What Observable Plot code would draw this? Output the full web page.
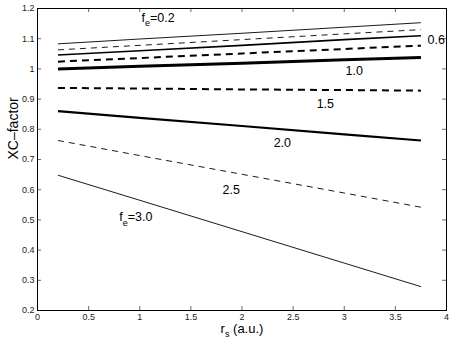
<!DOCTYPE html>
<html>
<head>
<meta charset="utf-8">
<script src="https://cdn.jsdelivr.net/npm/d3@7"></script>
<script src="https://cdn.jsdelivr.net/npm/@observablehq/plot@0.6"></script>
<style>
  html, body { margin: 0; padding: 0; background: #fff; }
  #chart svg { display: block; }
</style>
</head>
<body>
<div id="chart"></div>
<script>
// ---- data ----
const rsValues = [0.2, 1, 2, 3, 3.75];
const feValues = [0.2, 0.4, 0.6, 0.8, 1.0, 1.5, 2.0, 2.5, 3.0];
const xc_02 = [1.083, 1.099, 1.118, 1.138, 1.153];
const xc_04 = [1.063, 1.078, 1.097, 1.116, 1.130];
const xc_06 = [1.046, 1.060, 1.078, 1.097, 1.110];
const xc_08 = [1.024, 1.036, 1.051, 1.066, 1.077];
const xc_10 = [1.000, 1.009, 1.019, 1.030, 1.038];
const xc_15 = [0.937, 0.935, 0.932, 0.930, 0.928];
const xc_20 = [0.860, 0.838, 0.811, 0.783, 0.763];
const xc_25 = [0.763, 0.713, 0.651, 0.589, 0.542];
const xc_30 = [0.648, 0.565, 0.461, 0.357, 0.279];
const seriesValues = [xc_02, xc_04, xc_06, xc_08, xc_10, xc_15, xc_20, xc_25, xc_30];

const xTicks = [0, 0.5, 1, 1.5, 2, 2.5, 3, 3.5, 4];
const yTicks = [0.2, 0.3, 0.4, 0.5, 0.6, 0.7, 0.8, 0.9, 1.0, 1.1, 1.2];
const yTickLabels = ["0.2", "0.3", "0.4", "0.5", "0.6", "0.7", "0.8", "0.9", "1", "1.1", "1.2"];

const labelText = ["f_e=0.2", "0.6", "1.0", "1.5", "2.0", "2.5", "f_e=3.0"];
const labelX = [1.017, 3.814, 3.012, 2.73, 2.31, 1.81, 0.80];
const labelY = [1.170, 1.097, 0.994, 0.885, 0.753, 0.600, 0.508];

// ---- styles ----
const widths = [0.9, 0.9, 1.6, 2.0, 3.0, 2.0, 2.2, 0.9, 0.9];
const dashes = [null, "6,5", null, "7,5", null, "7,5", null, "6,5", null];

const W = 452, H = 343;
const mL = 37, mR = 6, mT = 8, mB = 33;
const innerW = W - mL - mR, innerH = H - mT - mB;
const font = "'Liberation Sans', Arial, Helvetica, sans-serif";

const lineMarks = seriesValues.map((vals, i) => {
  const rows = rsValues.map((r, j) => ({rs: r, xc: vals[j]}));
  return Plot.line(rows, {
    x: "rs", y: "xc", stroke: "#000",
    strokeWidth: widths[i],
    strokeDasharray: dashes[i] ?? undefined,
    strokeLinecap: "butt"
  });
});

const labels = labelText.map((t, i) => ({t, x: labelX[i], y: labelY[i]}));

const plot = Plot.plot({
  width: W, height: H,
  marginLeft: mL, marginRight: mR, marginTop: mT, marginBottom: mB,
  style: {fontFamily: font, background: "#fff", color: "#000"},
  x: {domain: [0, 4]},
  y: {domain: [0.2, 1.2]},
  marks: [
    Plot.axisX(xTicks, {anchor: "bottom", tickSize: 0, tickPadding: 3, fontSize: 9, label: null, tickFormat: d => String(d), fill: "#222"}),
    Plot.axisY(yTicks, {anchor: "left", tickSize: 0, tickPadding: 3, fontSize: 9, label: null, tickFormat: (d, i) => yTickLabels[i], fill: "#222"}),
    Plot.tickX(xTicks, {x: d => d, insetTop: innerH - 4, stroke: "#444", strokeWidth: 0.8}),
    Plot.tickX(xTicks, {x: d => d, insetBottom: innerH - 4, stroke: "#444", strokeWidth: 0.8}),
    Plot.tickY(yTicks, {y: d => d, insetRight: innerW - 4, stroke: "#444", strokeWidth: 0.8}),
    Plot.tickY(yTicks, {y: d => d, insetLeft: innerW - 4, stroke: "#444", strokeWidth: 0.8}),
    ...lineMarks,
    Plot.text(labels, {x: "x", y: "y", text: "t", textAnchor: "start", lineAnchor: "middle", fontSize: 12.5, fill: "#000"}),
    Plot.text(["r_s (a.u.)"], {frameAnchor: "bottom", dy: 18, lineAnchor: "middle", fontSize: 13, fill: "#000"}),
    Plot.text(["XC–factor"], {frameAnchor: "left", dx: -24, rotate: -90, lineAnchor: "middle", fontSize: 14, fill: "#000"}),
    Plot.frame({stroke: "#000", strokeWidth: 1})
  ]
});

d3.select(plot).selectAll("text").each(function() {
  const s = this.textContent;
  const k = s.indexOf("_");
  if (k < 0) return;
  const fs = parseFloat(getComputedStyle(this).fontSize) || 12;
  const base = s.slice(0, k), sub = s[k + 1], rest = s.slice(k + 2);
  const el = d3.select(this);
  el.text(null);
  el.append("tspan").text(base);
  el.append("tspan").attr("dy", fs * 0.35).attr("font-size", fs * 0.75).text(sub);
  el.append("tspan").attr("dy", -fs * 0.35).text(rest);
});

document.getElementById("chart").appendChild(plot);
</script>
</body>
</html>
